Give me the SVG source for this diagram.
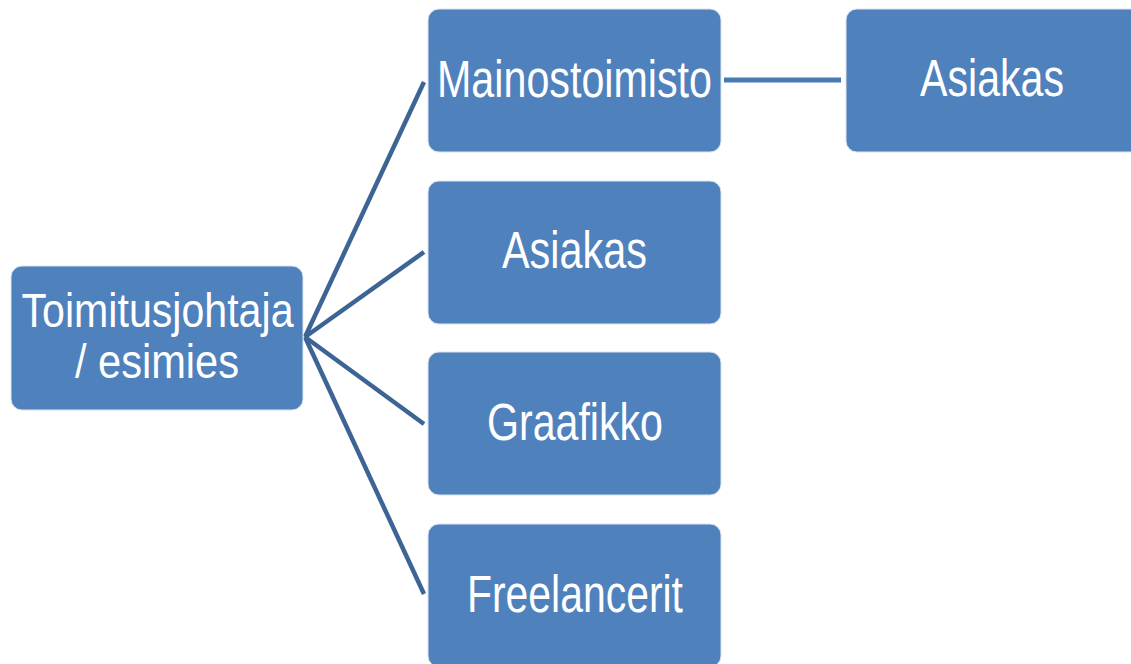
<svg xmlns="http://www.w3.org/2000/svg" width="1131" height="664" viewBox="0 0 1131 664">
<style>
.box{fill:#4f81bd;stroke:#dbe4f0;stroke-width:1}
.t{fill:#ffffff;font-family:"Liberation Sans",Arial,sans-serif;font-size:51px;text-anchor:middle}
.t2{font-size:48px}
.c{stroke:#3c6494;stroke-width:4.5;fill:none}
.h{stroke:#4a7ab5;stroke-width:5;fill:none}
</style>
<rect width="1131" height="664" fill="#ffffff"/>
<g id="connectors">
<line class="c" x1="305" y1="337" x2="424" y2="82"/>
<line class="c" x1="305" y1="337" x2="424" y2="252"/>
<line class="c" x1="305" y1="337" x2="424" y2="424"/>
<line class="c" x1="305" y1="337" x2="424" y2="594"/>
<line class="h" x1="724" y1="80" x2="841" y2="80"/>
</g>
<g id="node-toimitusjohtaja">
<rect class="box" x="11" y="266" width="292" height="144" rx="11"/>
<text class="t t2" x="157.5" y="327" textLength="272" lengthAdjust="spacingAndGlyphs">Toimitusjohtaja</text>
<text class="t t2" x="157" y="378" textLength="164" lengthAdjust="spacingAndGlyphs">/ esimies</text>
</g>
<g id="node-mainostoimisto">
<rect class="box" x="428" y="9" width="293" height="143" rx="11"/>
<text class="t" x="574.5" y="97" textLength="275" lengthAdjust="spacingAndGlyphs">Mainostoimisto</text>
</g>
<g id="node-asiakas-top">
<rect class="box" x="846" y="9" width="300" height="143" rx="11"/>
<text class="t" x="992" y="96" textLength="144" lengthAdjust="spacingAndGlyphs">Asiakas</text>
</g>
<g id="node-asiakas">
<rect class="box" x="428" y="181" width="293" height="143" rx="11"/>
<text class="t" x="574.5" y="268" textLength="145" lengthAdjust="spacingAndGlyphs">Asiakas</text>
</g>
<g id="node-graafikko">
<rect class="box" x="428" y="352" width="293" height="143" rx="11"/>
<text class="t" x="575" y="440" textLength="176" lengthAdjust="spacingAndGlyphs">Graafikko</text>
</g>
<g id="node-freelancerit">
<rect class="box" x="428" y="524" width="293" height="143" rx="11"/>
<text class="t" x="575" y="612" textLength="216" lengthAdjust="spacingAndGlyphs">Freelancerit</text>
</g>
</svg>
